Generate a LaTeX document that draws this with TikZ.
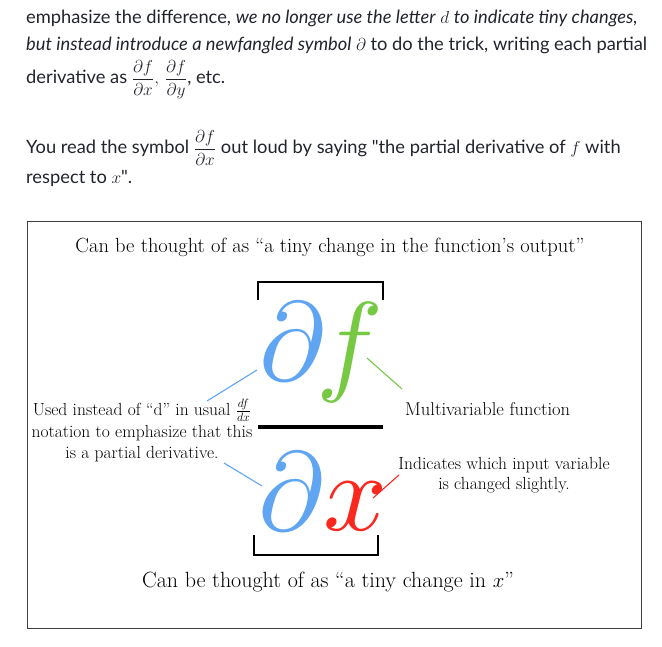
\documentclass[tikz,border=0pt]{standalone}
\usepackage{fontspec}
\usepackage{amsmath}
\usepackage{graphicx}
\newfontfamily\latofont{Lato}
\definecolor{txt}{HTML}{21242C}
\definecolor{pblue}{RGB}{95,165,242}
\definecolor{pgreen}{RGB}{119,201,68}
\definecolor{pred}{RGB}{250,40,30}
\tikzset{
  para/.style={anchor=base west,inner sep=0pt,text=txt,font=\fontsize{18.3}{22}\selectfont\latofont},
  captext/.style={anchor=base,inner sep=0pt,font=\fontsize{20.5}{24}\selectfont},
  note/.style={inner sep=0pt,font=\fontsize{17.5}{20.5}\selectfont,align=center},
  big/.style={anchor=base west,inner sep=0pt},
  brk/.style={line width=1.5pt},
  lead/.style={line width=1.1pt}
}
\newcommand{\bigsym}[1]{\scalebox{11.2}{$#1$}}
\begin{document}
\begin{tikzpicture}[x=1pt,y=-1pt]
\useasboundingbox (0,0) rectangle (662,647);
% paragraph text
\node[para] (l1) at (26,24) {emphasize the difference, \textit{we no longer use the letter} $d$ \textit{to indicate tiny changes,}};
\node[para] (l2) at (26,51) {\textit{but instead introduce a newfangled symbol} $\partial$ to do the trick, writing each partial};
\node[para] (l3) at (26,84) {derivative as $\dfrac{\partial f}{\partial x},\,\dfrac{\partial f}{\partial y}$, etc.};
\node[para] (l4) at (26,154) {You read the symbol $\dfrac{\partial f}{\partial x}$ out loud by saying \textquotedbl the partial derivative of $f$ with};
\node[para] (l5) at (26,184) {respect to $x$\textquotedbl.};
% box
\draw[black!75,line width=1pt] (27,222) rectangle (641,628);
\node[captext] (c1) at (330,253) {Can be thought of as “a tiny change in the function’s output”};
\draw[brk] (258,300) -- (258,282) -- (383,282) -- (383,300);
\node[big,text=pblue] (d1) at (259,381) {\bigsym{\partial}};
\node[big,text=pgreen] (f1) at (316,381) {\bigsym{f}};
\draw[line width=4pt] (258,427) -- (383,427);
\node[big,text=pblue] (d2) at (258,530) {\bigsym{\partial}};
\node[big,text=pred] (x2) at (323,530) {\bigsym{x}};
\draw[brk] (254,535) -- (254,555) -- (378,555) -- (378,535);
\node[captext,font=\fontsize{22}{26}\selectfont] (c2) at (328,587) {Can be thought of as “a tiny change in $x$”};
% notes
\node[note,anchor=north] (nl) at (142,399) {Used instead of “d” in usual $\frac{df}{dx}$\\[2pt]notation to emphasize that this\\is a partial derivative.};
\node[note,anchor=base west,font=\fontsize{18.5}{21}\selectfont] (nm) at (405,415) {Multivariable function};
\node[note,anchor=north] (ni) at (504,457) {Indicates which input variable\\is changed slightly.};
% leaders
\coordinate (a1) at (207,401); \coordinate (b1) at (257,370);
\coordinate (a2) at (367,358); \coordinate (b2) at (402,389);
\coordinate (a3) at (224,463); \coordinate (b3) at (262,486);
\coordinate (a4) at (373,498); \coordinate (b4) at (399,475);
\draw[lead,pblue] (a1) -- (b1);
\draw[lead,pgreen] (a2) -- (b2);
\draw[lead,pblue] (a3) -- (b3);
\draw[lead,pred] (a4) -- (b4);
\end{tikzpicture}
\end{document}
